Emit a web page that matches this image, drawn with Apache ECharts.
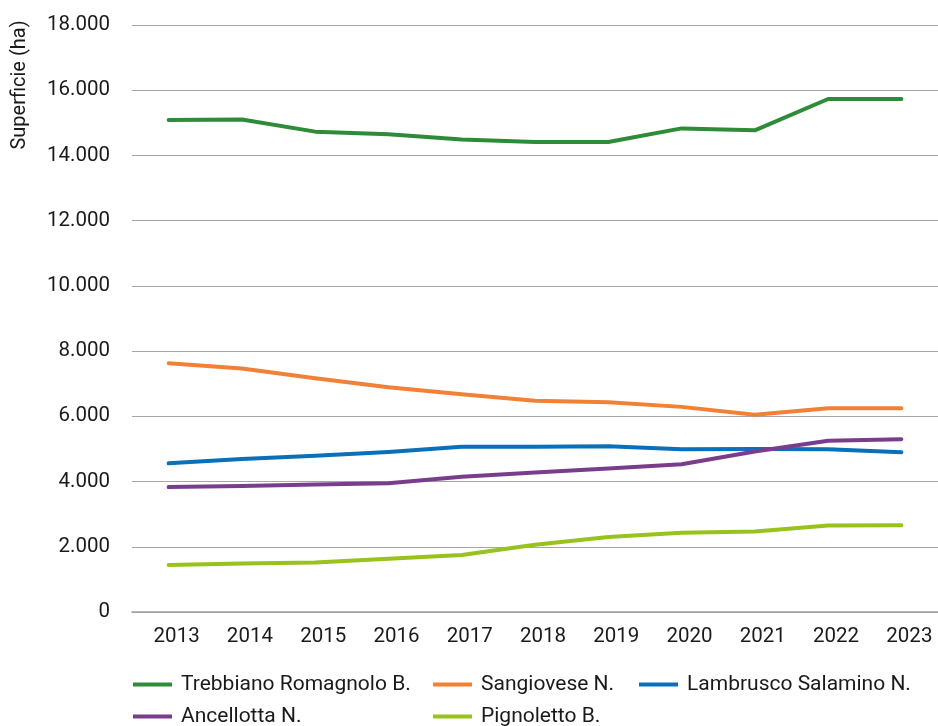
<!DOCTYPE html>
<html>
<head>
<meta charset="utf-8">
<script src="https://cdn.jsdelivr.net/npm/echarts@6/dist/echarts.min.js"></script>
<style>
html,body{margin:0;padding:0;background:#fff;}
#chart{width:938px;height:726px;}
</style>
</head>
<body>
<div id="chart"></div>
<script>
const years = ['2013','2014','2015','2016','2017','2018','2019','2020','2021','2022','2023'];
const trebbiano = [15090, 15100, 14730, 14650, 14490, 14410, 14410, 14830, 14770, 15730, 15730];
const sangiovese = [7630, 7470, 7170, 6890, 6680, 6480, 6430, 6290, 6050, 6250, 6250];
const lambrusco = [4560, 4690, 4790, 4910, 5070, 5070, 5080, 4990, 5000, 4990, 4900];
const ancellotta = [3830, 3860, 3910, 3950, 4150, 4280, 4400, 4530, 4920, 5250, 5300];
const pignoletto = [1440, 1490, 1520, 1630, 1745, 2060, 2300, 2430, 2470, 2650, 2660];
const seriesNames = ['Trebbiano Romagnolo B.', 'Sangiovese N.', 'Lambrusco Salamino N.', 'Ancellotta N.', 'Pignoletto B.'];
const seriesData = [trebbiano, sangiovese, lambrusco, ancellotta, pignoletto];
const colors = ['#2e8b38', '#f28037', '#0a70b9', '#7a3d8c', '#98c21d'];
const yTitle = 'Superficie (ha)';

const font = 'Roboto, "Noto Sans", sans-serif';
const chart = echarts.init(document.getElementById('chart'), null, {renderer: 'canvas'});

const legendCommon = {
  orient: 'vertical',
  itemWidth: 39,
  itemHeight: 4,
  itemGap: 11,
  height: 90,
  icon: 'rect',
  padding: 0,
  textStyle: {fontFamily: font, fontSize: 21, color: '#1a1a1a', padding: [0,0,0,4]},
  selectedMode: false
};

chart.setOption({
  animation: false,
  color: colors,
  textStyle: {fontFamily: font},
  grid: {left: 132, right: -4, top: 25, bottom: 114, containLabel: false},
  xAxis: {
    type: 'category',
    data: years,
    boundaryGap: true,
    axisLine: {show: true, lineStyle: {color: '#a0a0a0', width: 1.5}},
    axisTick: {show: false},
    axisLabel: {fontFamily: font, fontSize: 20.5, color: '#1a1a1a', margin: 14, padding: [0,0,0,16]}
  },
  yAxis: {
    type: 'value',
    min: 0, max: 18000, interval: 2000,
    axisLine: {show: false},
    axisTick: {show: false},
    splitLine: {lineStyle: {color: '#a6a6a6', width: 1}},
    axisLabel: {
      fontFamily: font, fontSize: 20.5, color: '#1a1a1a', margin: 22,
      formatter: v => v === 0 ? '0' : v.toLocaleString('de-DE')
    }
  },
  legend: [
    Object.assign({}, legendCommon, {data: [seriesNames[0], seriesNames[3]], left: 133, top: 674}),
    Object.assign({}, legendCommon, {data: [seriesNames[1], seriesNames[4]], left: 433, top: 674}),
    Object.assign({}, legendCommon, {data: [seriesNames[2]], left: 639, top: 674})
  ],
  graphic: [{
    type: 'text',
    x: 20, y: 85,
    rotation: Math.PI / 2,
    style: {text: yTitle, fontFamily: font, fontSize: 20, fill: '#1a1a1a', textAlign: 'center', textVerticalAlign: 'middle'}
  }],
  series: seriesNames.map((name, i) => ({
    name: name,
    type: 'line',
    data: seriesData[i],
    symbol: 'none',
    lineStyle: {width: 4, cap: 'round', join: 'round'},
    itemStyle: {color: colors[i]}
  }))
});
</script>
</body>
</html>
